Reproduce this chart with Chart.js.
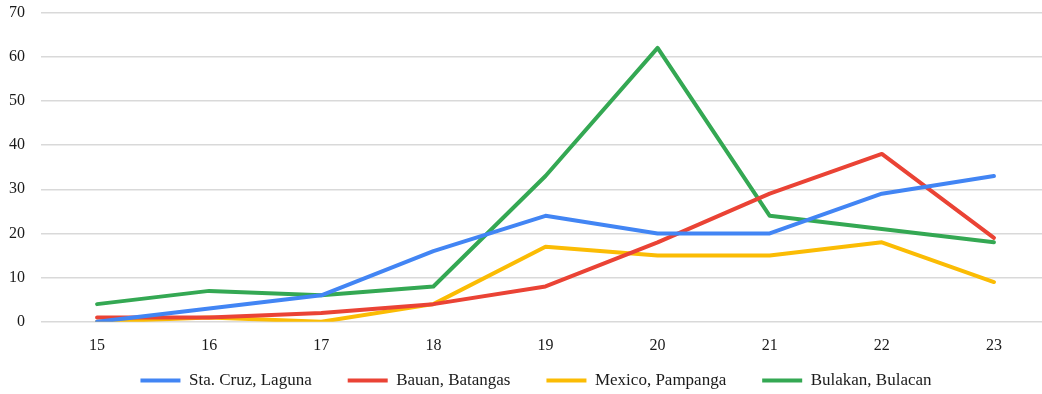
<!DOCTYPE html>
<html>
<head>
<meta charset="utf-8">
<script src="https://cdn.jsdelivr.net/npm/chart.js@4.4.1/dist/chart.umd.min.js"></script>
<style>
  html, body { margin: 0; padding: 0; background: #fff; overflow: hidden; height: 394px; }
  #wrap { width: 1052px; height: 445px; position: relative; margin-top: -13px; }
</style>
</head>
<body>
<div id="wrap"><canvas id="trendsChart"></canvas></div>
<script>
const categories = ["15", "16", "17", "18", "19", "20", "21", "22", "23"];
const staCruz = [0, 3, 6, 16, 24, 20, 20, 29, 33];
const bauan = [1, 1, 2, 4, 8, 18, 29, 38, 19];
const mexico = [0, 1, 0, 4, 17, 15, 15, 18, 9];
const bulakan = [4, 7, 6, 8, 33, 62, 24, 21, 18];
const yTicks = [0, 10, 20, 30, 40, 50, 60, 70];

const serif = "'Liberation Serif', 'Times New Roman', serif";

function series(label, values, color) {
  return {
    label: label,
    data: values,
    borderColor: color,
    backgroundColor: color,
    borderWidth: 4,
    borderCapStyle: "round",
    borderJoinStyle: "round",
    pointRadius: 0,
    pointHoverRadius: 0,
    tension: 0,
    fill: false
  };
}

// nudge the legend closer to the axis labels, like the original
const legendNudge = {
  id: "legendNudge",
  afterLayout(chart) {
    const lg = chart.legend;
    lg.top -= 33;
    lg.bottom -= 33;
    lg.left += 11;
    lg.right += 11;
  }
};

const ctx = document.getElementById("trendsChart").getContext("2d");
new Chart(ctx, {
  type: "line",
  data: {
    labels: categories,
    datasets: [
      series("Sta. Cruz, Laguna", staCruz, "#4285F4"),
      series("Bauan, Batangas", bauan, "#EA4335"),
      series("Mexico, Pampanga", mexico, "#FBBC04"),
      series("Bulakan, Bulacan", bulakan, "#34A853")
    ]
  },
  plugins: [legendNudge],
  options: {
    responsive: true,
    maintainAspectRatio: false,
    animation: false,
    layout: { padding: { top: 0, left: 0, right: 2, bottom: 0 } },
    plugins: {
      tooltip: { enabled: false },
      legend: {
        position: "bottom",
        labels: {
          usePointStyle: true,
          pointStyle: "line",
          pointStyleWidth: 40,
          boxWidth: 33,
          boxHeight: 4,
          padding: 36,
          color: "#1a1a1a",
          font: { family: serif, size: 17 }
        }
      }
    },
    scales: {
      x: {
        offset: true,
        grid: { display: false, drawTicks: false },
        border: { display: false },
        ticks: { color: "#1a1a1a", padding: 14, font: { family: serif, size: 16 } }
      },
      y: {
        min: 0,
        max: 70,
        afterBuildTicks: axis => { axis.ticks = yTicks.map(v => ({ value: v })); },
        afterFit: axis => { axis.width = 41; },
        grid: { color: "#d9d9d9", lineWidth: 1.5, drawTicks: false },
        border: { display: false },
        ticks: { color: "#1a1a1a", padding: 16, font: { family: serif, size: 16 } }
      }
    }
  }
});
</script>
</body>
</html>
